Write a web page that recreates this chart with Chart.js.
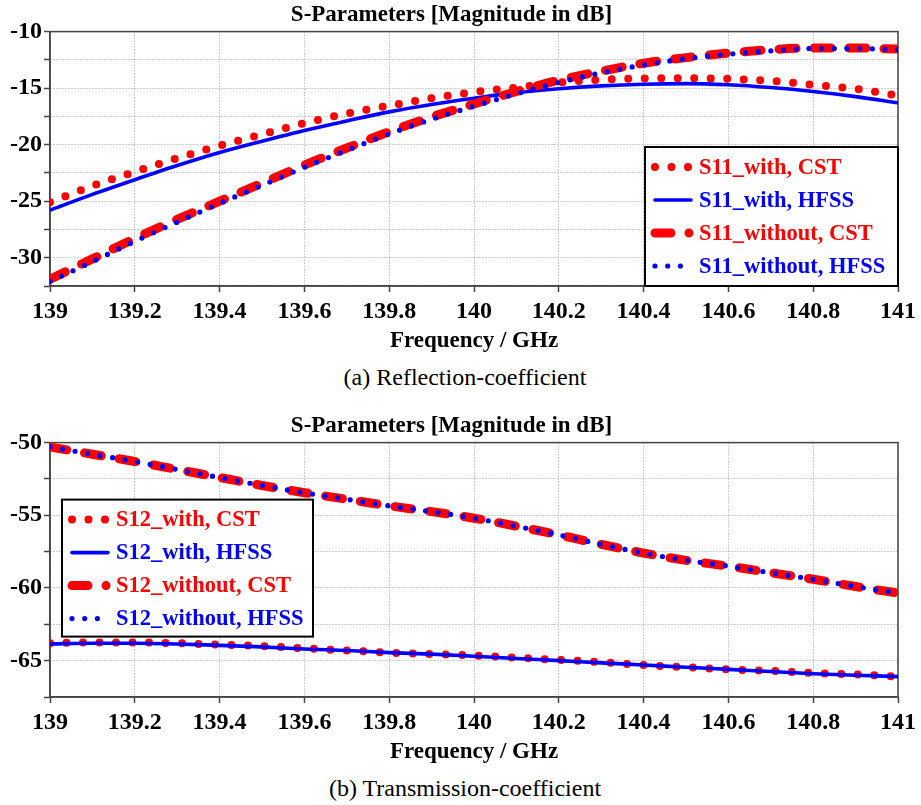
<!DOCTYPE html>
<html>
<head>
<meta charset="utf-8">
<script src="https://cdn.jsdelivr.net/npm/chart.js@4.4.1/dist/chart.umd.min.js"></script>
<style>
  body { margin:0; background:#fff; width:921px; height:805px; overflow:hidden; position:relative;
         font-family:"Liberation Serif","Times New Roman",serif; }
  .wrap { position:absolute; left:0; width:921px; height:356px; }
  .cap { position:absolute; left:0; width:930px; text-align:center; font-size:24px; line-height:26px; color:#000; }
</style>
</head>
<body>
<div class="wrap" style="top:0px"><canvas id="c1" width="921" height="356"></canvas></div>
<div class="cap" id="capA" style="top:364px"></div>
<div class="wrap" style="top:411px"><canvas id="c2" width="921" height="356"></canvas></div>
<div class="cap" id="capB" style="top:775px"></div>
<script>
// ---------- data ----------
const freq = [139.0,139.1,139.2,139.3,139.4,139.5,139.6,139.7,139.8,139.9,140.0,
              140.1,140.2,140.3,140.4,140.5,140.6,140.7,140.8,140.9,141.0];
const xTickValues = [139,139.2,139.4,139.6,139.8,140,140.2,140.4,140.6,140.8,141];
const yTicksRefl = [-32.5,-30,-27.5,-25,-22.5,-20,-17.5,-15,-12.5,-10];
const yTicksTrans = [-67.5,-65,-62.5,-60,-57.5,-55,-52.5,-50];

const chartTitle = 'S-Parameters [Magnitude in dB]';
const xAxisTitle = 'Frequency / GHz';
const captionA = '(a) Reflection-coefficient';
const captionB = '(b) Transmission-coefficient';
const reflLabels = ['S11_with, CST','S11_with, HFSS','S11_without, CST','S11_without, HFSS'];
const transLabels = ['S12_with, CST','S12_with, HFSS','S12_without, CST','S12_without, HFSS'];

const s11WithCST     = [-25.1,-23.65,-22.4,-21.2,-20.1,-19.1,-18.1,-17.25,-16.55,-15.9,-15.35,
                        -14.95,-14.5,-14.25,-14.15,-14.12,-14.18,-14.36,-14.7,-15.07,-15.66];
const s11WithHFSS    = [-25.8,-24.4,-23.1,-21.85,-20.7,-19.7,-18.75,-17.9,-17.1,-16.45,-15.9,
                        -15.4,-15.05,-14.8,-14.65,-14.6,-14.7,-14.95,-15.3,-15.75,-16.3];
const s11WithoutCST  = [-31.9,-30.1,-28.3,-26.6,-25.0,-23.4,-21.8,-20.3,-18.85,-17.55,-16.4,
                        -15.3,-14.3,-13.5,-12.8,-12.3,-11.9,-11.6,-11.45,-11.45,-11.55];
const s11WithoutHFSS = [-32.1,-30.35,-28.55,-26.85,-25.2,-23.6,-22.0,-20.5,-19.05,-17.75,-16.6,
                        -15.5,-14.5,-13.65,-12.95,-12.4,-12.0,-11.7,-11.5,-11.5,-11.6];

const s12WithCST     = [-63.8,-63.75,-63.75,-63.8,-63.9,-64.0,-64.15,-64.3,-64.45,-64.55,-64.65,
                        -64.8,-64.95,-65.1,-65.3,-65.45,-65.6,-65.7,-65.85,-65.95,-66.1];
const s12WithHFSS    = [-63.85,-63.8,-63.8,-63.85,-63.95,-64.05,-64.2,-64.3,-64.45,-64.55,-64.7,
                        -64.85,-65.0,-65.15,-65.3,-65.45,-65.6,-65.75,-65.9,-66.0,-66.1];
const s12WithoutCST  = [-50.3,-50.8,-51.3,-51.85,-52.4,-52.95,-53.45,-53.9,-54.35,-54.75,-55.2,
                        -55.75,-56.35,-57.0,-57.6,-58.1,-58.5,-58.95,-59.4,-59.9,-60.35];
const s12WithoutHFSS = [-50.3,-50.8,-51.3,-51.85,-52.4,-52.95,-53.45,-53.9,-54.35,-54.75,-55.2,
                        -55.75,-56.35,-57.0,-57.6,-58.1,-58.5,-58.95,-59.4,-59.9,-60.35];

// ---------- styling / drawing ----------
const FONT = '"Liberation Serif","Times New Roman",serif';
const RED = '#ff0000', BLUE = '#0000ff';
document.getElementById('capA').textContent = captionA;
document.getElementById('capB').textContent = captionB;

const pts = arr => arr.map((v, i) => ({ x: freq[i], y: v }));

const framePlugin = {
  id: 'frame',
  beforeDatasetsDraw(chart) {
    const a = chart.chartArea, ctx = chart.ctx;
    ctx.save();
    ctx.strokeStyle = '#444';
    ctx.lineWidth = 1.5;
    ctx.strokeRect(a.left, a.top, a.right - a.left, a.bottom - a.top);
    ctx.restore();
  }
};

const boxLegend = {
  id: 'boxLegend',
  afterDraw(chart, args, o) {
    const a = chart.chartArea, ctx = chart.ctx;
    const left = o.alignRight ? a.right - o.width : a.left + o.offsetX;
    const top = o.alignBottom ? a.bottom - o.height : a.top + o.offsetY;
    ctx.save();
    ctx.fillStyle = '#fff';
    ctx.fillRect(left, top, o.width, o.height);
    ctx.lineWidth = 2;
    ctx.strokeStyle = '#000';
    ctx.strokeRect(left, top, o.width, o.height);
    chart.data.datasets.forEach((ds, i) => {
      const y = top + 20 + i * 33;
      ctx.beginPath();
      ctx.setLineDash(ds.legendDash || ds.borderDash || []);
      ctx.lineCap = 'round';
      ctx.lineWidth = ds.borderWidth;
      ctx.strokeStyle = ds.borderColor;
      ctx.moveTo(left + 10, y);
      ctx.lineTo(left + 46, y);
      ctx.stroke();
      ctx.setLineDash([]);
      ctx.fillStyle = ds.borderColor;
      ctx.font = 'bold 22.5px ' + FONT;
      ctx.textAlign = 'left';
      ctx.textBaseline = 'middle';
      ctx.fillText(ds.label, left + 54, y + 1);
    });
    ctx.restore();
  }
};

function makeDatasets(labels, a, b, c, d) {
  const common = { pointRadius: 0, cubicInterpolationMode: 'monotone', borderCapStyle: 'round',
                   borderJoinStyle: 'round', fill: false };
  return [
    Object.assign({}, common, { label: labels[0], data: pts(a), borderColor: RED, borderWidth: 8,
      borderDash: [0, 16.5], order: 3 }),
    Object.assign({}, common, { label: labels[1], data: pts(b), borderColor: BLUE, borderWidth: 3.6,
      borderCapStyle: 'butt', order: 2 }),
    Object.assign({}, common, { label: labels[2], data: pts(c), borderColor: RED, borderWidth: 9,
      borderDash: [17, 18], legendDash: [16, 18, 0.01, 40], order: 1 }),
    Object.assign({}, common, { label: labels[3], data: pts(d), borderColor: BLUE, borderWidth: 5.2,
      borderDash: [0, 12.7], order: 0 })
  ];
}

function makeChart(id, labels, series, yMin, yMax, yTicks, legendOpts) {
  const tickFont = { family: FONT, size: 24, weight: 'bold' };
  const gridOpts = { color: '#a0a0a0', lineWidth: 1, tickLength: 6, tickColor: '#444',
                     tickWidth: 1.5, tickBorderDash: [] };
  const borderOpts = { color: '#444', width: 1.5, dash: [1, 2] };
  return new Chart(document.getElementById(id), {
    type: 'line',
    data: { datasets: makeDatasets(labels, ...series) },
    options: {
      responsive: false,
      animation: false,
      layout: { padding: { left: 0, right: 18, top: 0, bottom: 0 } },
      plugins: {
        legend: { display: false },
        tooltip: { enabled: false },
        title: { display: true, text: chartTitle, color: '#000',
                 font: { family: FONT, size: 23, weight: 'bold' }, padding: { top: 1, bottom: 3 } },
        boxLegend: legendOpts
      },
      scales: {
        x: {
          type: 'linear', min: 139, max: 141,
          afterBuildTicks: s => { s.ticks = xTickValues.map(v => ({ value: v })); },
          afterFit: s => { s.height = 70; },
          ticks: { callback: v => String(Math.round(v * 10) / 10), font: tickFont, color: '#000',
                   padding: 5, autoSkip: false, maxRotation: 0 },
          grid: gridOpts,
          border: borderOpts,
          title: { display: true, text: xAxisTitle, color: '#000',
                   font: { family: FONT, size: 23, weight: 'bold' }, padding: { top: 0, bottom: 1 } }
        },
        y: {
          type: 'linear', min: yMin, max: yMax,
          afterBuildTicks: s => { s.ticks = yTicks.map(v => ({ value: v })); },
          afterFit: s => { s.width = 50; },
          ticks: { callback: v => (v % 5 === 0 ? String(v) : ''), font: tickFont, color: '#000',
                   padding: 2, autoSkip: false },
          grid: gridOpts,
          border: borderOpts
        }
      }
    },
    plugins: [framePlugin, boxLegend]
  });
}

makeChart('c1', reflLabels, [s11WithCST, s11WithHFSS, s11WithoutCST, s11WithoutHFSS],
  -32.5, -10, yTicksRefl,
  { alignRight: true, alignBottom: true, width: 253, height: 139 });
makeChart('c2', transLabels, [s12WithCST, s12WithHFSS, s12WithoutCST, s12WithoutHFSS],
  -67.5, -50, yTicksTrans,
  { alignRight: false, alignBottom: false, offsetX: 12, offsetY: 57, width: 251, height: 137 });
</script>
</body>
</html>
